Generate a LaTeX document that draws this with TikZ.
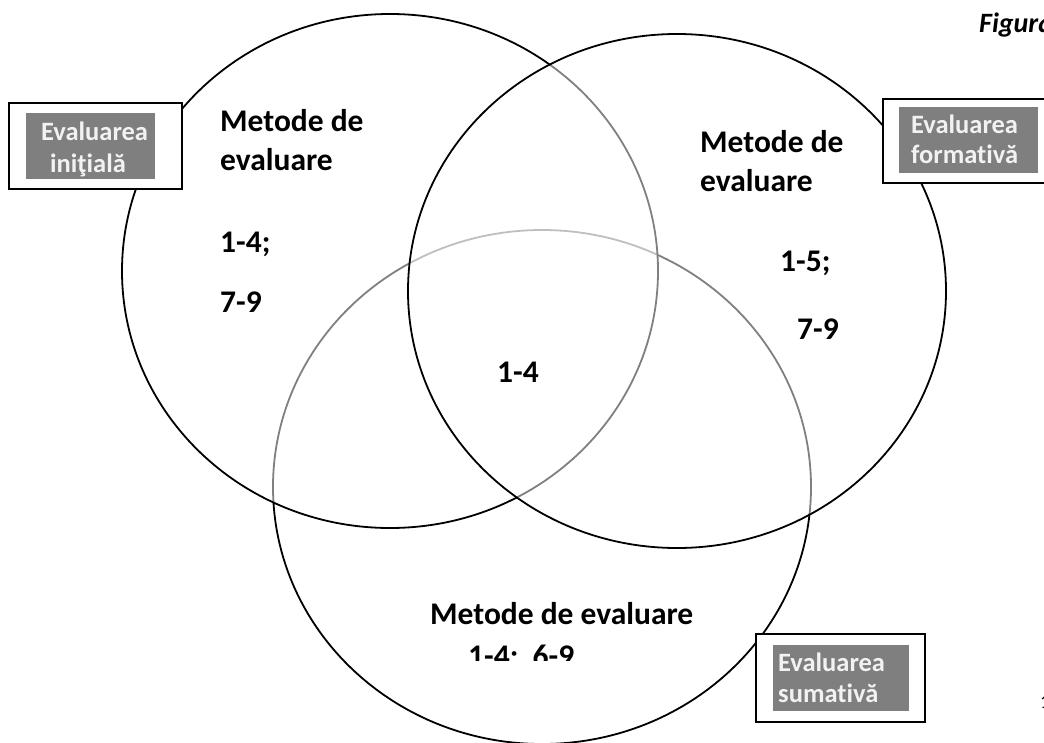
\documentclass[tikz,border=0pt]{standalone}
\usepackage{fontspec}
\setmainfont{Carlito}[Ligatures=NoCommon]
\definecolor{taggray}{HTML}{7F7F7F}
\definecolor{tagtext}{HTML}{F2F2F2}
\begin{document}
\begin{tikzpicture}[x=1pt,y=-1pt,
  venn/.style={draw=black, line width=1.8pt, fill=white, fill opacity=0.5},
  lbl/.style={font=\bfseries\fontsize{31.5}{39}\selectfont, align=left, anchor=base west, inner sep=0pt},
  tagbox/.style={draw=black, line width=2pt, fill=white, inner sep=0pt},
  tagfill/.style={fill=taggray, draw=none, inner sep=0pt},
  tagtxt/.style={text=tagtext, font=\bfseries\fontsize{26.5}{32}\selectfont, inner sep=0pt, anchor=base west}
]
\useasboundingbox (0,0) rectangle (1044,742);
% circles: bottom first, then left, then right
\draw[venn] (542,487) ellipse [x radius=269pt, y radius=257pt];
\draw[venn] (390,271) ellipse [x radius=268pt, y radius=257pt];
\draw[venn] (677,291) ellipse [x radius=269pt, y radius=257pt];

% labels inside circles (base anchor = baseline of the last line)
\node[lbl] (mL) at (220,170) {Metode de\\evaluare};
\node[lbl] (aL) at (220,252) {1-4;};
\node[lbl] (bL) at (220,312) {7-9};
\node[lbl] (mR) at (700,191) {Metode de\\evaluare};
\node[lbl] (aR) at (780,271) {1-5;};
\node[lbl] (bR) at (797,339) {7-9};
\node[lbl] (mC) at (497,382) {1-4};
\node[lbl] (mB) at (430,624) {Metode de evaluare};
\begin{scope}
\clip (380,600) rectangle (720,660);
\node[lbl] (aB) at (468,666) {1-4;\ \ 6-9};
\end{scope}

% tag boxes
\node[tagbox, minimum width=173, minimum height=86] (tagL) at (95.5,146) {};
\node[tagfill, minimum width=129, minimum height=66] (grayL) at (90.5,146) {};
\node[tagtxt] (tL1) at (41,140) {Evaluarea};
\node[tagtxt] (tL2) at (50,172) {iniţială};

\node[tagbox, minimum width=180, minimum height=84] (tagR) at (973,141) {};
\node[tagfill, minimum width=139, minimum height=66] (grayR) at (968.5,140) {};
\node[tagtxt] (tR1) at (911,133) {Evaluarea};
\node[tagtxt] (tR2) at (911,163) {formativă};

\node[tagbox, minimum width=169, minimum height=88] (tagB) at (840.5,678) {};
\node[tagfill, minimum width=136, minimum height=66] (grayB) at (841,678) {};
\node[tagtxt] (tB1) at (778,671) {Evaluarea};
\node[tagtxt] (tB2) at (778,702) {sumativă};

% cut-off texts at the right edge (as in the reference)
\node[anchor=base west, inner sep=0pt, font=\bfseries\itshape\fontsize{28}{33}\selectfont] (fig) at (979,32) {Figura};
\node[anchor=base west, inner sep=0pt, font=\fontsize{20}{24}\selectfont] (pg) at (1040,708) {1};
\end{tikzpicture}
\end{document}
